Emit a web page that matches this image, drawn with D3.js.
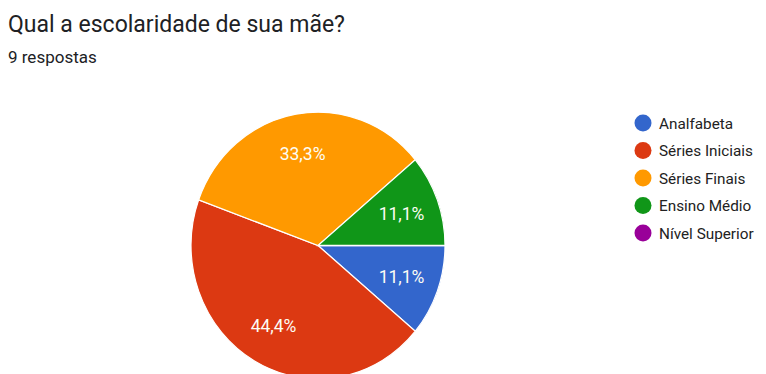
<!DOCTYPE html>
<html>
<head>
<meta charset="utf-8">
<script src="https://cdn.jsdelivr.net/npm/d3@7"></script>
<style>
  html, body { margin: 0; padding: 0; background: #fff; }
  svg { display: block; font-family: Roboto, Arial, sans-serif; }
</style>
</head>
<body>
<svg id="chart" width="766" height="374"></svg>
<script>
// Survey answers: mother's schooling level
const categories = ["Analfabeta", "Séries Iniciais", "Séries Finais", "Ensino Médio", "Nível Superior"];
const counts = [1, 4, 3, 1, 0];
const colors = ["#3366cc", "#dc3912", "#ff9900", "#109618", "#990099"];
const title = "Qual a escolaridade de sua mãe?";
const subtitle = "9 respostas";

const svg = d3.select("#chart");

svg.append("text")
  .attr("x", 8).attr("y", 32)
  .attr("font-size", 23)
  .attr("fill", "#202124")
  .text(title);

svg.append("text")
  .attr("x", 8).attr("y", 63)
  .attr("font-size", 17)
  .attr("fill", "#202124")
  .text(subtitle);

const total = d3.sum(counts);
const data = categories.map((c, i) => ({ name: c, value: counts[i], color: colors[i] }));

// Pie starts at 3 o'clock and runs clockwise
const pie = d3.pie().value(d => d.value).sort(null)
  .startAngle(Math.PI / 2).endAngle(Math.PI / 2 + 2 * Math.PI);

const r = 127;
const arc = d3.arc().innerRadius(0).outerRadius(r);
const labelArc = d3.arc().innerRadius(r * 0.7).outerRadius(r * 0.7);

const g = svg.append("g")
  .attr("transform", "translate(318,245.5) scale(1,1.05)");

const arcs = pie(data).filter(d => d.data.value > 0);

g.selectAll("path.slice")
  .data(arcs)
  .join("path")
  .attr("class", "slice")
  .attr("d", arc)
  .attr("fill", d => d.data.color)
  .attr("stroke", "#fff")
  .attr("stroke-width", 1.2);

const fmt = v => (v / total * 100).toFixed(1).replace(".", ",") + "%";

svg.append("g")
  .attr("transform", "translate(318,245.5)")
  .selectAll("text")
  .data(arcs)
  .join("text")
  .attr("x", d => labelArc.centroid(d)[0])
  .attr("y", d => labelArc.centroid(d)[1] * 1.05)
  .attr("text-anchor", "middle")
  .attr("dominant-baseline", "central")
  .attr("font-size", 17.5)
  .attr("fill", "#fdfdf5")
  .text(d => fmt(d.data.value));

// Legend
const legend = svg.append("g").attr("transform", "translate(643,123)");
const rows = legend.selectAll("g")
  .data(data)
  .join("g")
  .attr("transform", (d, i) => `translate(0,${i * 27.5})`);
rows.append("circle").attr("r", 8.5).attr("fill", d => d.color);
rows.append("text")
  .attr("x", 16).attr("y", 0.5)
  .attr("dominant-baseline", "central")
  .attr("font-size", 15.3)
  .attr("fill", "#222")
  .text(d => d.name);
</script>
</body>
</html>
